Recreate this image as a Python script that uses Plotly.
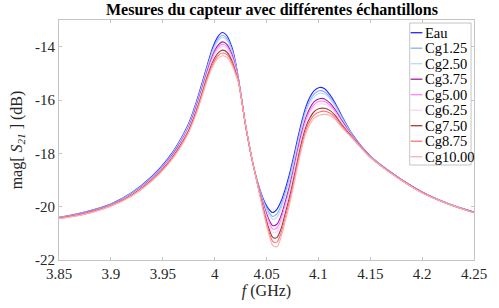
import plotly.graph_objects as go

# Frequency grid (GHz)
freq = [3.850, 3.875, 3.900, 3.920, 3.940, 3.955, 3.965, 3.975, 3.982, 3.988,
        3.993, 3.998, 4.003, 4.0075, 4.012, 4.017, 4.020, 4.023, 4.026, 4.029,
        4.033, 4.037, 4.042, 4.047, 4.052, 4.056, 4.060, 4.064, 4.068, 4.072,
        4.076, 4.080, 4.084, 4.088, 4.092, 4.096, 4.101, 4.106, 4.111, 4.116,
        4.122, 4.133, 4.150, 4.175, 4.200, 4.225, 4.250]

eau = [-20.40, -20.20, -19.90, -19.48, -18.85, -18.20, -17.62, -16.88, -16.12, -15.35,
       -14.68, -14.05, -13.63, -13.47, -13.60, -14.06, -14.55, -15.20, -15.95, -16.75,
       -17.65, -18.40, -19.15, -19.72, -20.08, -20.22, -20.10, -19.80, -19.35, -18.80,
       -18.15, -17.45, -16.80, -16.25, -15.88, -15.65, -15.53, -15.58, -15.80, -16.10,
       -16.55, -17.30, -18.10, -18.85, -19.45, -19.88, -20.20]
cg1_25 = [-20.41, -20.21, -19.91, -19.49, -18.87, -18.23, -17.65, -16.92, -16.17, -15.41,
          -14.75, -14.13, -13.73, -13.57, -13.70, -14.14, -14.61, -15.22, -15.96, -16.75,
          -17.64, -18.40, -19.17, -19.78, -20.19, -20.37, -20.27, -19.96, -19.49, -18.94,
          -18.28, -17.58, -16.92, -16.37, -16.00, -15.77, -15.65, -15.70, -15.89, -16.17,
          -16.60, -17.32, -18.11, -18.85, -19.45, -19.88, -20.20]
cg2_50 = [-20.41, -20.22, -19.92, -19.51, -18.89, -18.25, -17.68, -16.95, -16.21, -15.46,
          -14.80, -14.20, -13.80, -13.65, -13.77, -14.20, -14.65, -15.23, -15.96, -16.75,
          -17.64, -18.40, -19.18, -19.82, -20.27, -20.48, -20.39, -20.08, -19.60, -19.04,
          -18.38, -17.67, -17.01, -16.46, -16.09, -15.87, -15.75, -15.78, -15.96, -16.23,
          -16.64, -17.33, -18.11, -18.86, -19.46, -19.88, -20.21]
cg3_75 = [-20.42, -20.23, -19.93, -19.53, -18.92, -18.29, -17.73, -17.02, -16.29, -15.55,
          -14.91, -14.33, -13.96, -13.82, -13.92, -14.32, -14.74, -15.26, -15.97, -16.75,
          -17.63, -18.40, -19.21, -19.91, -20.45, -20.71, -20.66, -20.34, -19.83, -19.26,
          -18.59, -17.87, -17.20, -16.65, -16.29, -16.06, -15.95, -15.96, -16.11, -16.35,
          -16.73, -17.36, -18.12, -18.86, -19.46, -19.89, -20.21]
cg5_00 = [-20.43, -20.24, -19.94, -19.54, -18.94, -18.31, -17.76, -17.05, -16.34, -15.60,
          -14.97, -14.40, -14.04, -13.91, -14.00, -14.39, -14.79, -15.28, -15.98, -16.75,
          -17.63, -18.40, -19.23, -19.96, -20.54, -20.84, -20.80, -20.48, -19.95, -19.38,
          -18.70, -17.98, -17.30, -16.75, -16.39, -16.17, -16.05, -16.06, -16.19, -16.41,
          -16.78, -17.38, -18.13, -18.87, -19.47, -19.89, -20.22]
cg6_25 = [-20.43, -20.25, -19.95, -19.55, -18.95, -18.33, -17.79, -17.08, -16.38, -15.65,
          -15.02, -14.47, -14.12, -13.99, -14.08, -14.46, -14.83, -15.29, -15.98, -16.75,
          -17.62, -18.40, -19.24, -20.01, -20.63, -20.96, -20.94, -20.61, -20.07, -19.49,
          -18.81, -18.08, -17.40, -16.85, -16.49, -16.27, -16.15, -16.16, -16.27, -16.47,
          -16.82, -17.39, -18.13, -18.87, -19.47, -19.89, -20.22]
cg7_50 = [-20.44, -20.26, -19.96, -19.57, -18.98, -18.37, -17.83, -17.14, -16.45, -15.73,
          -15.11, -14.58, -14.25, -14.13, -14.21, -14.56, -14.91, -15.31, -15.99, -16.75,
          -17.61, -18.40, -19.26, -20.08, -20.78, -21.15, -21.16, -20.83, -20.26, -19.67,
          -18.99, -18.25, -17.56, -17.01, -16.66, -16.43, -16.32, -16.31, -16.39, -16.57,
          -16.89, -17.41, -18.14, -18.87, -19.47, -19.90, -20.22]
cg8_75 = [-20.44, -20.27, -19.97, -19.59, -19.00, -18.39, -17.87, -17.18, -16.50, -15.79,
          -15.18, -14.67, -14.35, -14.24, -14.30, -14.64, -14.96, -15.33, -15.99, -16.75,
          -17.61, -18.40, -19.28, -20.14, -20.89, -21.30, -21.33, -20.99, -20.41, -19.81,
          -19.12, -18.37, -17.68, -17.13, -16.78, -16.56, -16.45, -16.42, -16.49, -16.65,
          -16.95, -17.43, -18.14, -18.88, -19.48, -19.90, -20.23]
cg10_00 = [-20.45, -20.28, -19.98, -19.60, -19.02, -18.42, -17.90, -17.22, -16.55, -15.85,
           -15.25, -14.75, -14.45, -14.34, -14.40, -14.72, -15.02, -15.35, -16.00, -16.75,
           -17.60, -18.40, -19.30, -20.20, -21.00, -21.45, -21.50, -21.15, -20.55, -19.95,
           -19.25, -18.50, -17.80, -17.25, -16.90, -16.68, -16.57, -16.54, -16.58, -16.72,
           -17.00, -17.45, -18.15, -18.88, -19.48, -19.90, -20.23]

series_names = ["Eau", "Cg1.25", "Cg2.50", "Cg3.75", "Cg5.00", "Cg6.25", "Cg7.50", "Cg8.75", "Cg10.00"]
series_values = [eau, cg1_25, cg2_50, cg3_75, cg5_00, cg6_25, cg7_50, cg8_75, cg10_00]
colors = ["#2424ff", "#86aef2", "#b6dcf8", "#a41ca4", "#ff80ff", "#f8d6f8",
          "#a23a3a", "#ff7272", "#ffaeae"]

x_tickvals = [3.85, 3.9, 3.95, 4.0, 4.05, 4.1, 4.15, 4.2, 4.25]
x_ticktext = ["3.85", "3.9", "3.95", "4", "4.05", "4.1", "4.15", "4.2", "4.25"]
y_tickvals = [-22, -20, -18, -16, -14]
y_ticktext = ["-22", "-20", "-18", "-16", "-14"]

FONT = "Liberation Serif"
AXIS_GRAY = "#c4c4c4"
TEXT_COL = "#262626"

W, H = 499, 308
ML, MR, MT, MB = 59, 14, 20, 48
PW, PH = W - ML - MR, H - MT - MB

fig = go.Figure()
for name, vals, col in zip(series_names, series_values, colors):
    fig.add_trace(go.Scatter(x=freq, y=vals, mode="lines", name=name, showlegend=False,
                             line=dict(color=col, width=1.1, shape="spline", smoothing=0.8)))

axis_common = dict(showgrid=False, zeroline=False, showline=True, linecolor=AXIS_GRAY,
                   linewidth=1, mirror="ticks", ticks="inside", ticklen=3,
                   tickcolor=AXIS_GRAY, tickfont=dict(family=FONT, size=15, color=TEXT_COL))

# Compact MATLAB-style legend built from the series names / colours
def px_x(px):
    return (px - ML) / PW

def px_y(py):
    return (H - MB - py) / PH

shapes = [dict(type="rect", xref="paper", yref="paper",
               x0=px_x(419), x1=px_x(482), y0=px_y(165), y1=px_y(23),
               line=dict(color=AXIS_GRAY, width=1), fillcolor="white", layer="above")]
annotations = []
row0, row_step = 32.7, 15.5
for k, (name, col) in enumerate(zip(series_names, colors)):
    yc = row0 + k * row_step
    shapes.append(dict(type="line", xref="paper", yref="paper",
                       x0=px_x(420), x1=px_x(432), y0=px_y(yc), y1=px_y(yc),
                       line=dict(color=col, width=1.3), layer="above"))
    annotations.append(dict(text=name, xref="paper", yref="paper", x=px_x(433), y=px_y(yc),
                            xanchor="left", yanchor="middle", showarrow=False,
                            font=dict(family=FONT, size=14.5, color="black")))

fig.update_layout(
    width=W, height=H,
    margin=dict(l=ML, r=MR, t=MT, b=MB),
    font=dict(family=FONT),
    paper_bgcolor="white", plot_bgcolor="white",
    title=dict(text="<b>Mesures du capteur avec différentes échantillons</b>",
               font=dict(family=FONT, size=16, color="black"),
               x=(ML + PW / 2) / W, xanchor="center", xref="container",
               y=1 - 9.5 / H, yanchor="middle", yref="container", pad=dict(t=0, b=0)),
    xaxis=dict(range=[3.85, 4.25], tickvals=x_tickvals, ticktext=x_ticktext,
               title=dict(text="<i>f</i> (GHz)", font=dict(family=FONT, size=16, color=TEXT_COL),
                          standoff=1),
               **axis_common),
    yaxis=dict(range=[-22, -13], tickvals=y_tickvals, ticktext=y_ticktext,
               title=dict(text="mag[ <i>S</i><sub><i>21</i></sub> ] (dB)",
                          font=dict(family=FONT, size=16, color=TEXT_COL), standoff=8),
               **axis_common),
    shapes=shapes,
    annotations=annotations,
    showlegend=False,
)

for v in series_values:
    assert len(v) == len(freq), len(v)

fig.write_html("out.html",
               config={"displayModeBar": False},
               post_script="document.body.style.margin='0';document.body.style.padding='0';"
                           "document.body.style.overflow='hidden';")
